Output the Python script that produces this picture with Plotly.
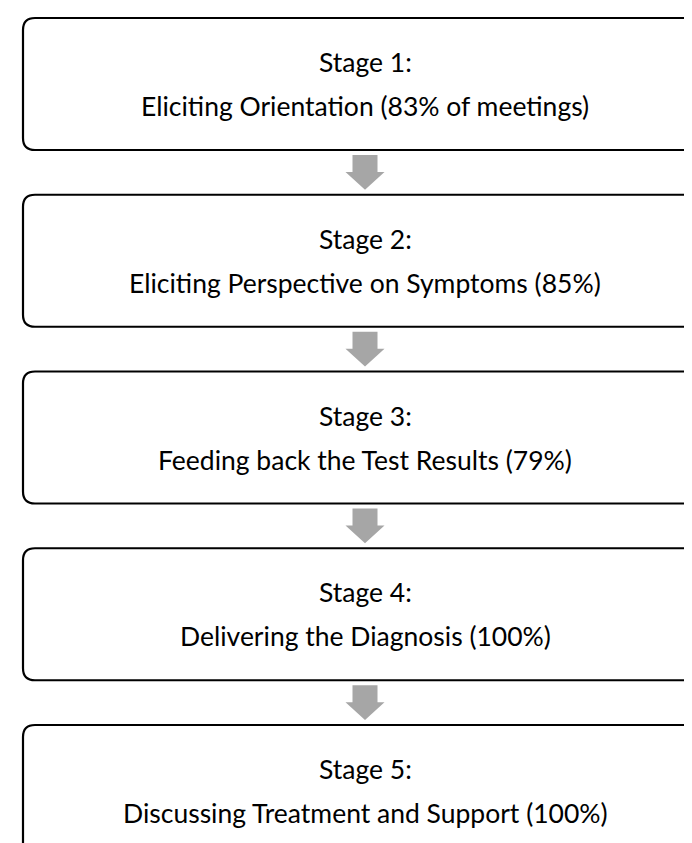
import plotly.graph_objects as go

# ---- data ----
stage_titles = ["Stage 1:", "Stage 2:", "Stage 3:", "Stage 4:", "Stage 5:"]
stage_names = [
    "Eliciting Orientation",
    "Eliciting Perspective on Symptoms",
    "Feeding back the Test Results",
    "Delivering the Diagnosis",
    "Discussing Treatment and Support",
]
stage_pct = ["83% of meetings", "85%", "79%", "100%", "100%"]

# ---- layout constants (pixels) ----
W, H = 692, 843
X0, X1 = 15, 699
TOP0 = 10
PERIOD = 176.75
BOX_H = 132
R = 12
CX = (X0 + X1) / 2
FONT = "Lato, Carlito, Calibri, sans-serif"
FS = 26.5

fig = go.Figure()
shapes = []
annotations = []

def rounded(x0, y0, x1, y1, r):
    return (f"M {x0+r},{y0} H {x1-r} Q {x1},{y0} {x1},{y0+r} V {y1-r} "
            f"Q {x1},{y1} {x1-r},{y1} H {x0+r} Q {x0},{y1} {x0},{y1-r} "
            f"V {y0+r} Q {x0},{y0} {x0+r},{y0} Z")

tops = [TOP0 + i * PERIOD for i in range(len(stage_titles))]
for i, (t, n, p) in enumerate(zip(stage_titles, stage_names, stage_pct)):
    y0 = tops[i]
    y1 = y0 + BOX_H
    shapes.append(dict(type="path", path=rounded(X0, y0, X1, y1, R),
                       line=dict(color="black", width=2.2), fillcolor="white",
                       xref="x", yref="y", layer="below"))
    annotations.append(dict(x=CX, y=y0 + 44, text=t, showarrow=False,
                            xref="x", yref="y", xanchor="center", yanchor="middle",
                            font=dict(family=FONT, size=FS, color="black")))
    annotations.append(dict(x=CX, y=y0 + 88, text=f"{n} ({p})", showarrow=False,
                            xref="x", yref="y", xanchor="center", yanchor="middle",
                            font=dict(family=FONT, size=FS, color="black")))
    if i < len(stage_titles) - 1:
        a0 = y1 + 5
        tip = tops[i + 1] - 5
        hs = a0 + 17
        sx0, sx1 = CX - 12.5, CX + 12.5
        hx0, hx1 = CX - 19.5, CX + 19.5
        path = (f"M {sx0},{a0} H {sx1} V {hs} H {hx1} L {CX},{tip} "
                f"L {hx0},{hs} H {sx0} Z")
        shapes.append(dict(type="path", path=path, line=dict(width=0),
                           fillcolor="#A6A6A6", xref="x", yref="y"))

fig.update_layout(
    width=W, height=H,
    margin=dict(l=0, r=0, t=0, b=0),
    paper_bgcolor="white", plot_bgcolor="white",
    xaxis=dict(range=[0, W], visible=False, fixedrange=True),
    yaxis=dict(range=[H, 0], visible=False, fixedrange=True),
    shapes=shapes, annotations=annotations, showlegend=False,
)
fig.write_html("out.html")
